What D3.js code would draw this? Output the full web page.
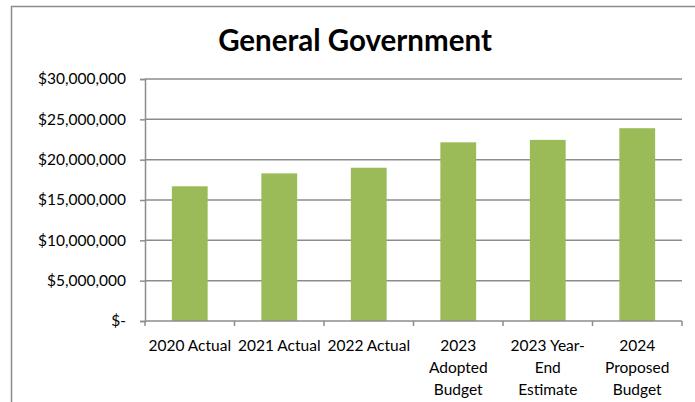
<!DOCTYPE html>
<html>
<head>
<meta charset="utf-8">
<script src="https://cdn.jsdelivr.net/npm/d3@7"></script>
<style>
  html, body { margin: 0; padding: 0; background: #fff; }
  svg { display: block; font-family: Lato, "Open Sans", sans-serif; }
</style>
</head>
<body>
<svg id="chart" width="695" height="402"></svg>
<script>
// General Government expenditure by budget stage
const categories = [
  ["2020 Actual"],
  ["2021 Actual"],
  ["2022 Actual"],
  ["2023", "Adopted", "Budget"],
  ["2023 Year-", "End", "Estimate"],
  ["2024", "Proposed", "Budget"]
];
const amounts = [16700000, 18300000, 19000000, 22150000, 22450000, 23900000];
const yTicks = [0, 5000000, 10000000, 15000000, 20000000, 25000000, 30000000];
const title = "General Government";

const svg = d3.select("#chart");
const margin = { left: 145, right: 13, top: 79, bottom: 81 };
const W = 695, H = 402;

// outer chart frame (runs past the right and bottom edges)
svg.append("rect")
  .attr("x", 11.5).attr("y", 6.5)
  .attr("width", 700).attr("height", 420)
  .attr("fill", "none").attr("stroke", "#8c8c8c").attr("stroke-width", 1.5);

svg.append("text")
  .attr("x", 355).attr("y", 51)
  .attr("text-anchor", "middle")
  .attr("font-size", 29.5).attr("font-weight", "bold")
  .attr("fill", "#000")
  .text(title);

const x = d3.scaleBand()
  .domain(d3.range(categories.length))
  .range([margin.left, W - margin.right])
  .padding(0);

const y = d3.scaleLinear()
  .domain([0, 30000000])
  .range([H - margin.bottom, margin.top]);

const fmt = v => v === 0 ? "$-" : "$" + d3.format(",")(v);

// horizontal gridlines
svg.append("g")
  .selectAll("line")
  .data(yTicks.filter(d => d > 0))
  .join("line")
  .attr("x1", margin.left).attr("x2", W - margin.right)
  .attr("y1", d => y(d)).attr("y2", d => y(d))
  .attr("stroke", "#8c8c8c").attr("stroke-width", 1.5);

// bars
svg.append("g")
  .selectAll("rect")
  .data(amounts)
  .join("rect")
  .attr("x", (d, i) => x(i) + x.bandwidth() * 0.3)
  .attr("width", x.bandwidth() * 0.4)
  .attr("y", d => y(d))
  .attr("height", d => y(0) - y(d))
  .attr("fill", "#9bbb59");

// y axis
const yAxis = svg.append("g")
  .attr("transform", `translate(${margin.left},0)`)
  .call(d3.axisLeft(y).tickValues(yTicks).tickFormat(fmt).tickSize(5).tickPadding(14));
yAxis.select(".domain").attr("stroke", "#8c8c8c").attr("stroke-width", 1.5);
yAxis.selectAll(".tick line").attr("stroke", "#8c8c8c").attr("stroke-width", 1.5);
yAxis.selectAll(".tick text")
  .attr("font-size", 15.5).attr("fill", "#000")
  .attr("font-family", "Lato, 'Open Sans', sans-serif");

// x axis baseline with boundary ticks
const xg = svg.append("g");
xg.append("line")
  .attr("x1", margin.left).attr("x2", W - margin.right)
  .attr("y1", y(0)).attr("y2", y(0))
  .attr("stroke", "#8c8c8c").attr("stroke-width", 1.5);
xg.selectAll("line.tk")
  .data(d3.range(categories.length + 1))
  .join("line")
  .attr("class", "tk")
  .attr("x1", i => margin.left + i * x.step())
  .attr("x2", i => margin.left + i * x.step())
  .attr("y1", y(0)).attr("y2", y(0) + 5)
  .attr("stroke", "#8c8c8c").attr("stroke-width", 1.5);

// category labels
const labels = svg.append("g")
  .selectAll("text")
  .data(categories)
  .join("text")
  .attr("text-anchor", "middle")
  .attr("font-size", 15.5)
  .attr("fill", "#000")
  .attr("transform", (d, i) => `translate(${x(i) + x.bandwidth() / 2},351)`);
labels.selectAll("tspan")
  .data(d => d)
  .join("tspan")
  .attr("x", 0)
  .attr("y", (d, j) => j * 22)
  .text(d => d);
</script>
</body>
</html>
